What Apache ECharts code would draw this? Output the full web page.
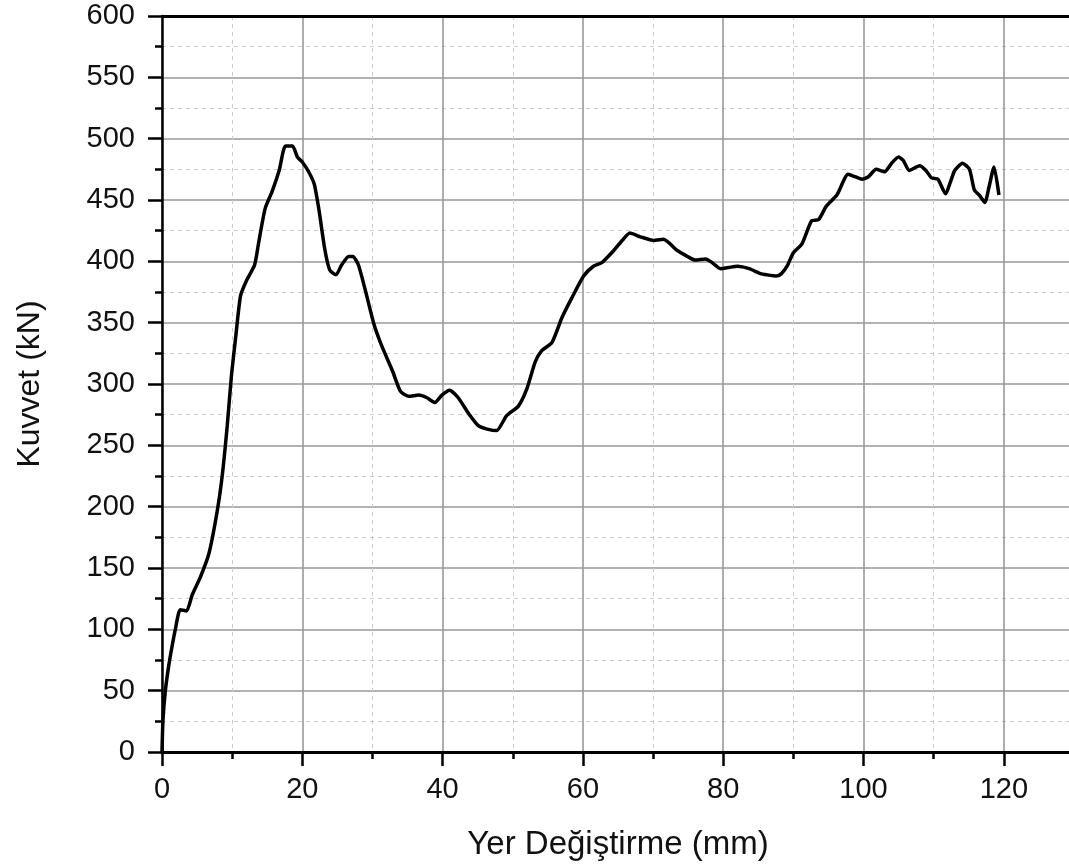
<!DOCTYPE html>
<html>
<head>
<meta charset="utf-8">
<script src="https://cdn.jsdelivr.net/npm/echarts@6/dist/echarts.min.js"></script>
<style>
html,body{margin:0;padding:0;background:#fff;}
#chart{width:1069px;height:868px;}
</style>
</head>
<body>
<div id="chart"></div>
<script>
const xAxisTitle = "Yer Değiştirme (mm)";
const yAxisTitle = "Kuvvet (kN)";
const displacement = [
  0, 0.14, 0.48, 0.95, 1.43, 1.9, 2.6, 3.5, 4.3, 5.5,
  6.7, 7.86, 8.6, 9.3, 9.9, 10.5, 11.2, 12.1, 13.2, 13.8,
  14.7, 15.7, 16.7, 17.6, 18.6, 19.3, 20, 20.9, 21.7, 22.4,
  23.2, 23.9, 24.8, 25.6, 26.6, 27.2, 28, 29, 30.2, 31.4,
  32.9, 34, 35.2, 36.6, 37.7, 38.9, 39.9, 41, 42.2, 43.7,
  45.1, 46.5, 47.7, 49.1, 50.8, 52, 53.2, 54.1, 55.6, 57,
  58.4, 60.1, 61.5, 62.7, 64.1, 65.6, 66.7, 68.2, 70.1, 71.5,
  73.4, 74.9, 76, 77.5, 78.4, 79.6, 80.8, 82, 83.7, 85.3,
  86.2, 87.6, 88.3, 89.1, 90, 91.2, 92.6, 93.6, 94.7, 96.2,
  97.8, 98.8, 99.8, 100.7, 101.8, 103, 104, 105, 105.7, 106.5,
  108, 108.9, 109.7, 110.6, 111.7, 112.4, 113, 114.1, 115.1, 115.8,
  116.5, 117.3, 117.9, 118.6, 119.3
];
const force = [
  0, 26, 50, 70, 86, 100, 116, 115, 128, 143,
  162, 196, 226, 266, 307, 338, 372, 385, 397, 416,
  443, 457, 474, 494, 494, 485, 481, 473, 463, 441,
  410, 393, 389, 397, 404, 404, 397, 376, 349, 330,
  310, 294, 290, 291, 289, 285, 291, 295, 289, 276,
  266, 263, 262, 274, 282, 296, 318, 327, 334, 354,
  370, 388, 396, 399, 407, 417, 423, 420, 417, 418,
  409, 404, 401, 402, 399, 394, 395, 396, 394, 390,
  389, 388, 390, 396, 407, 414, 433, 434, 445, 454,
  471, 469, 467, 469, 475, 473, 480, 485, 482, 474,
  478, 474, 468, 467, 455, 465, 474, 480, 475, 458,
  454, 448, 461, 477, 454
];
const xTicks = {min: 0, max: 130, interval: 20};
const yTicks = {min: 0, max: 600, interval: 50};

const seriesData = displacement.map((x, i) => [x, force[i]]);
const FONT = "'Liberation Sans', Arial, sans-serif";

const chart = echarts.init(document.getElementById('chart'), null, {renderer: 'canvas'});
const axisCommon = {
  axisLine: {show: true, onZero: false, lineStyle: {color: '#000', width: 2.5}},
  axisTick: {show: true, inside: false, length: 14, lineStyle: {color: '#000', width: 2.5}},
  minorTick: {show: true, splitNumber: 2, length: 7, lineStyle: {color: '#000', width: 2.5}},
  splitLine: {show: true, lineStyle: {color: '#999', width: 1.6}},
  minorSplitLine: {show: true, lineStyle: {color: '#cccccc', width: 1, type: [4, 4]}}
};
chart.setOption({
  backgroundColor: '#fff',
  animation: false,
  grid: {
    left: 162, top: 16, bottom: 116, right: -5,
    containLabel: false, outerBoundsMode: 'none', show: false
  },
  xAxis: [
    Object.assign({
      type: 'value', min: xTicks.min, max: xTicks.max, interval: xTicks.interval,
      name: xAxisTitle, nameLocation: 'middle', nameGap: 76,
      nameTextStyle: {fontFamily: FONT, fontSize: 33, color: '#111'},
      axisLabel: {fontFamily: FONT, fontSize: 29, color: '#111', margin: 23,
        showMaxLabel: false}
    }, axisCommon),
    {
      type: 'value', position: 'top', min: xTicks.min, max: xTicks.max, interval: xTicks.interval,
      axisLine: {show: true, lineStyle: {color: '#000', width: 3}},
      axisTick: {show: false}, axisLabel: {show: false}, splitLine: {show: false}, z: 10
    }
  ],
  yAxis: Object.assign({
    type: 'value', min: yTicks.min, max: yTicks.max, interval: yTicks.interval,
    name: yAxisTitle, nameLocation: 'middle', nameGap: 116, nameRotate: 90,
    nameTextStyle: {fontFamily: FONT, fontSize: 32, color: '#111'},
    axisLabel: {fontFamily: FONT, fontSize: 29, color: '#111', margin: 27}
  }, axisCommon),
  series: [{
    type: 'line',
    data: seriesData,
    showSymbol: false,
    smooth: 0.2,
    lineStyle: {color: '#000', width: 3.5},
    z: 5,
    markLine: {
      silent: true, symbol: 'none', label: {show: false},
      lineStyle: {color: '#000', width: 3, type: 'solid'},
      data: [{yAxis: yTicks.max}]
    }
  }]
});
</script>
</body>
</html>
